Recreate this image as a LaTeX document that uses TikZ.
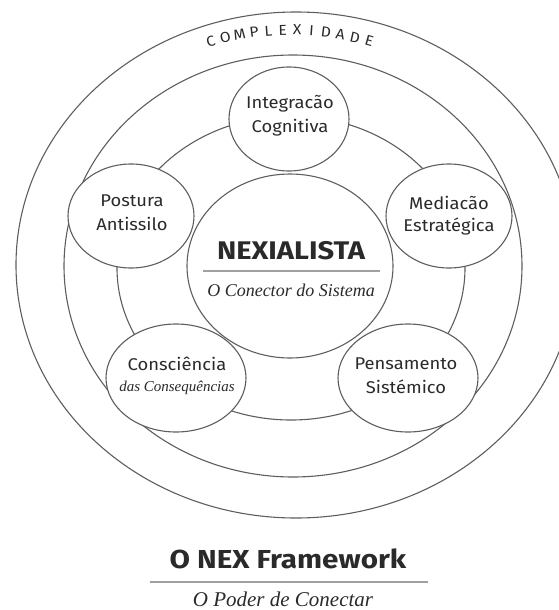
\documentclass[tikz,border=0pt]{standalone}
\usepackage{fontspec}
\newfontfamily\sansf[FakeStretch=1.08]{Fira Sans}
\newfontfamily\sansw[FakeStretch=1.14]{Fira Sans}
\newfontfamily\seriff{Liberation Serif}
\usetikzlibrary{shapes.geometric}
\definecolor{linec}{HTML}{5E5E5E}
\definecolor{textc}{HTML}{2A2A2A}
\definecolor{rulec}{HTML}{A0A0A0}
\tikzset{
  ring/.style={ellipse, draw=linec, line width=1.1pt, inner sep=0pt},
  pill/.style={ring, fill=white},
  lbl/.style={font=\sansf\fontsize{17}{20}\selectfont, text=textc, inner sep=0pt, align=center},
  subl/.style={font=\seriff\itshape\fontsize{15}{17}\selectfont, text=textc, inner sep=0pt},
  letter/.style={font=\sansf\fontsize{14.5}{17}\selectfont, text=textc, inner sep=0pt},
  rulel/.style={draw=rulec, line width=1.3pt}
}
\begin{document}
\begin{tikzpicture}[x=1pt,y=-1pt]
\useasboundingbox (0,0) rectangle (559,610);
\clip (0,0) rectangle (559,610);
% rings
\node[ring, minimum width=560pt, minimum height=506pt] (outer) at (296,265) {};
\node[ring, minimum width=458pt, minimum height=422pt] (mid) at (293,266) {};
\node[ring, minimum width=348pt, minimum height=304pt] (orbit) at (291,268) {};
% satellites
\node[pill, minimum width=120pt, minimum height=104pt] (integ) at (289,119) {};
\node[pill, minimum width=126pt, minimum height=104pt] (post) at (131,216) {};
\node[pill, minimum width=126pt, minimum height=104pt] (med) at (449,216) {};
\node[pill, minimum width=140pt, minimum height=108pt] (cons) at (176,378) {};
\node[pill, minimum width=140pt, minimum height=108pt] (pens) at (408,378) {};
% centre
\node[ring, minimum width=206pt, minimum height=184pt] (core) at (290,266) {};
% texts
\node[lbl] (t1) at (290,104) {Integracão};
\node[lbl] (t2) at (290,128) {Cognitiva};
\node[lbl] (t3) at (132,201) {Postura};
\node[lbl] (t4) at (132,224) {Antissilo};
\node[lbl] (t5) at (449,203) {Mediacão};
\node[lbl] (t6) at (449,226) {Estratégica};
\node[lbl] (t7) at (177,364) {Consciência};
\node[subl] (t8) at (177,388) {das Consequências};
\node[lbl] (t9) at (406,364) {Pensamento};
\node[lbl] (t10) at (406,387) {Sistémico};
\node[font=\sansw\bfseries\fontsize{25.5}{28}\selectfont, text=textc, inner sep=0pt] (nex) at (291,251) {NEXIALISTA};
\coordinate (nl) at (203,271);
\coordinate (nr) at (380,271);
\draw[draw=rulec, line width=1.1pt] (nl) -- (nr);
\node[font=\seriff\itshape\fontsize{18}{20}\selectfont, text=textc, inner sep=0pt] (nexsub) at (291,290) {O Conector do Sistema};
% arc text
\foreach \ch [count=\i from 0] in {C,O,M,P,L,E,X,I,D,A,D,E}{
  \pgfmathsetmacro\dx{-79.2+14.4*\i}
  \pgfmathsetmacro\th{acos(\dx/262)}
  \pgfmathsetmacro\px{290+\dx}
  \pgfmathsetmacro\py{265-235*sin(\th)}
  \pgfmathsetmacro\rot{atan2(-235*cos(\th),262*sin(\th))}
  \node[letter, rotate=\rot] (L\i) at (\px,\py) {\ch};
}
% title
\node[font=\sansw\bfseries\fontsize{26}{30}\selectfont, text=textc, inner sep=0pt] (title) at (288,559) {O NEX Framework};
\coordinate (rl) at (150,582);
\coordinate (rr) at (428,582);
\draw[rulel] (rl) -- (rr);
\node[font=\seriff\itshape\fontsize{21}{23}\selectfont, text=textc, inner sep=0pt] (subtitle) at (283,599) {O Poder de Conectar};
\end{tikzpicture}
\end{document}
